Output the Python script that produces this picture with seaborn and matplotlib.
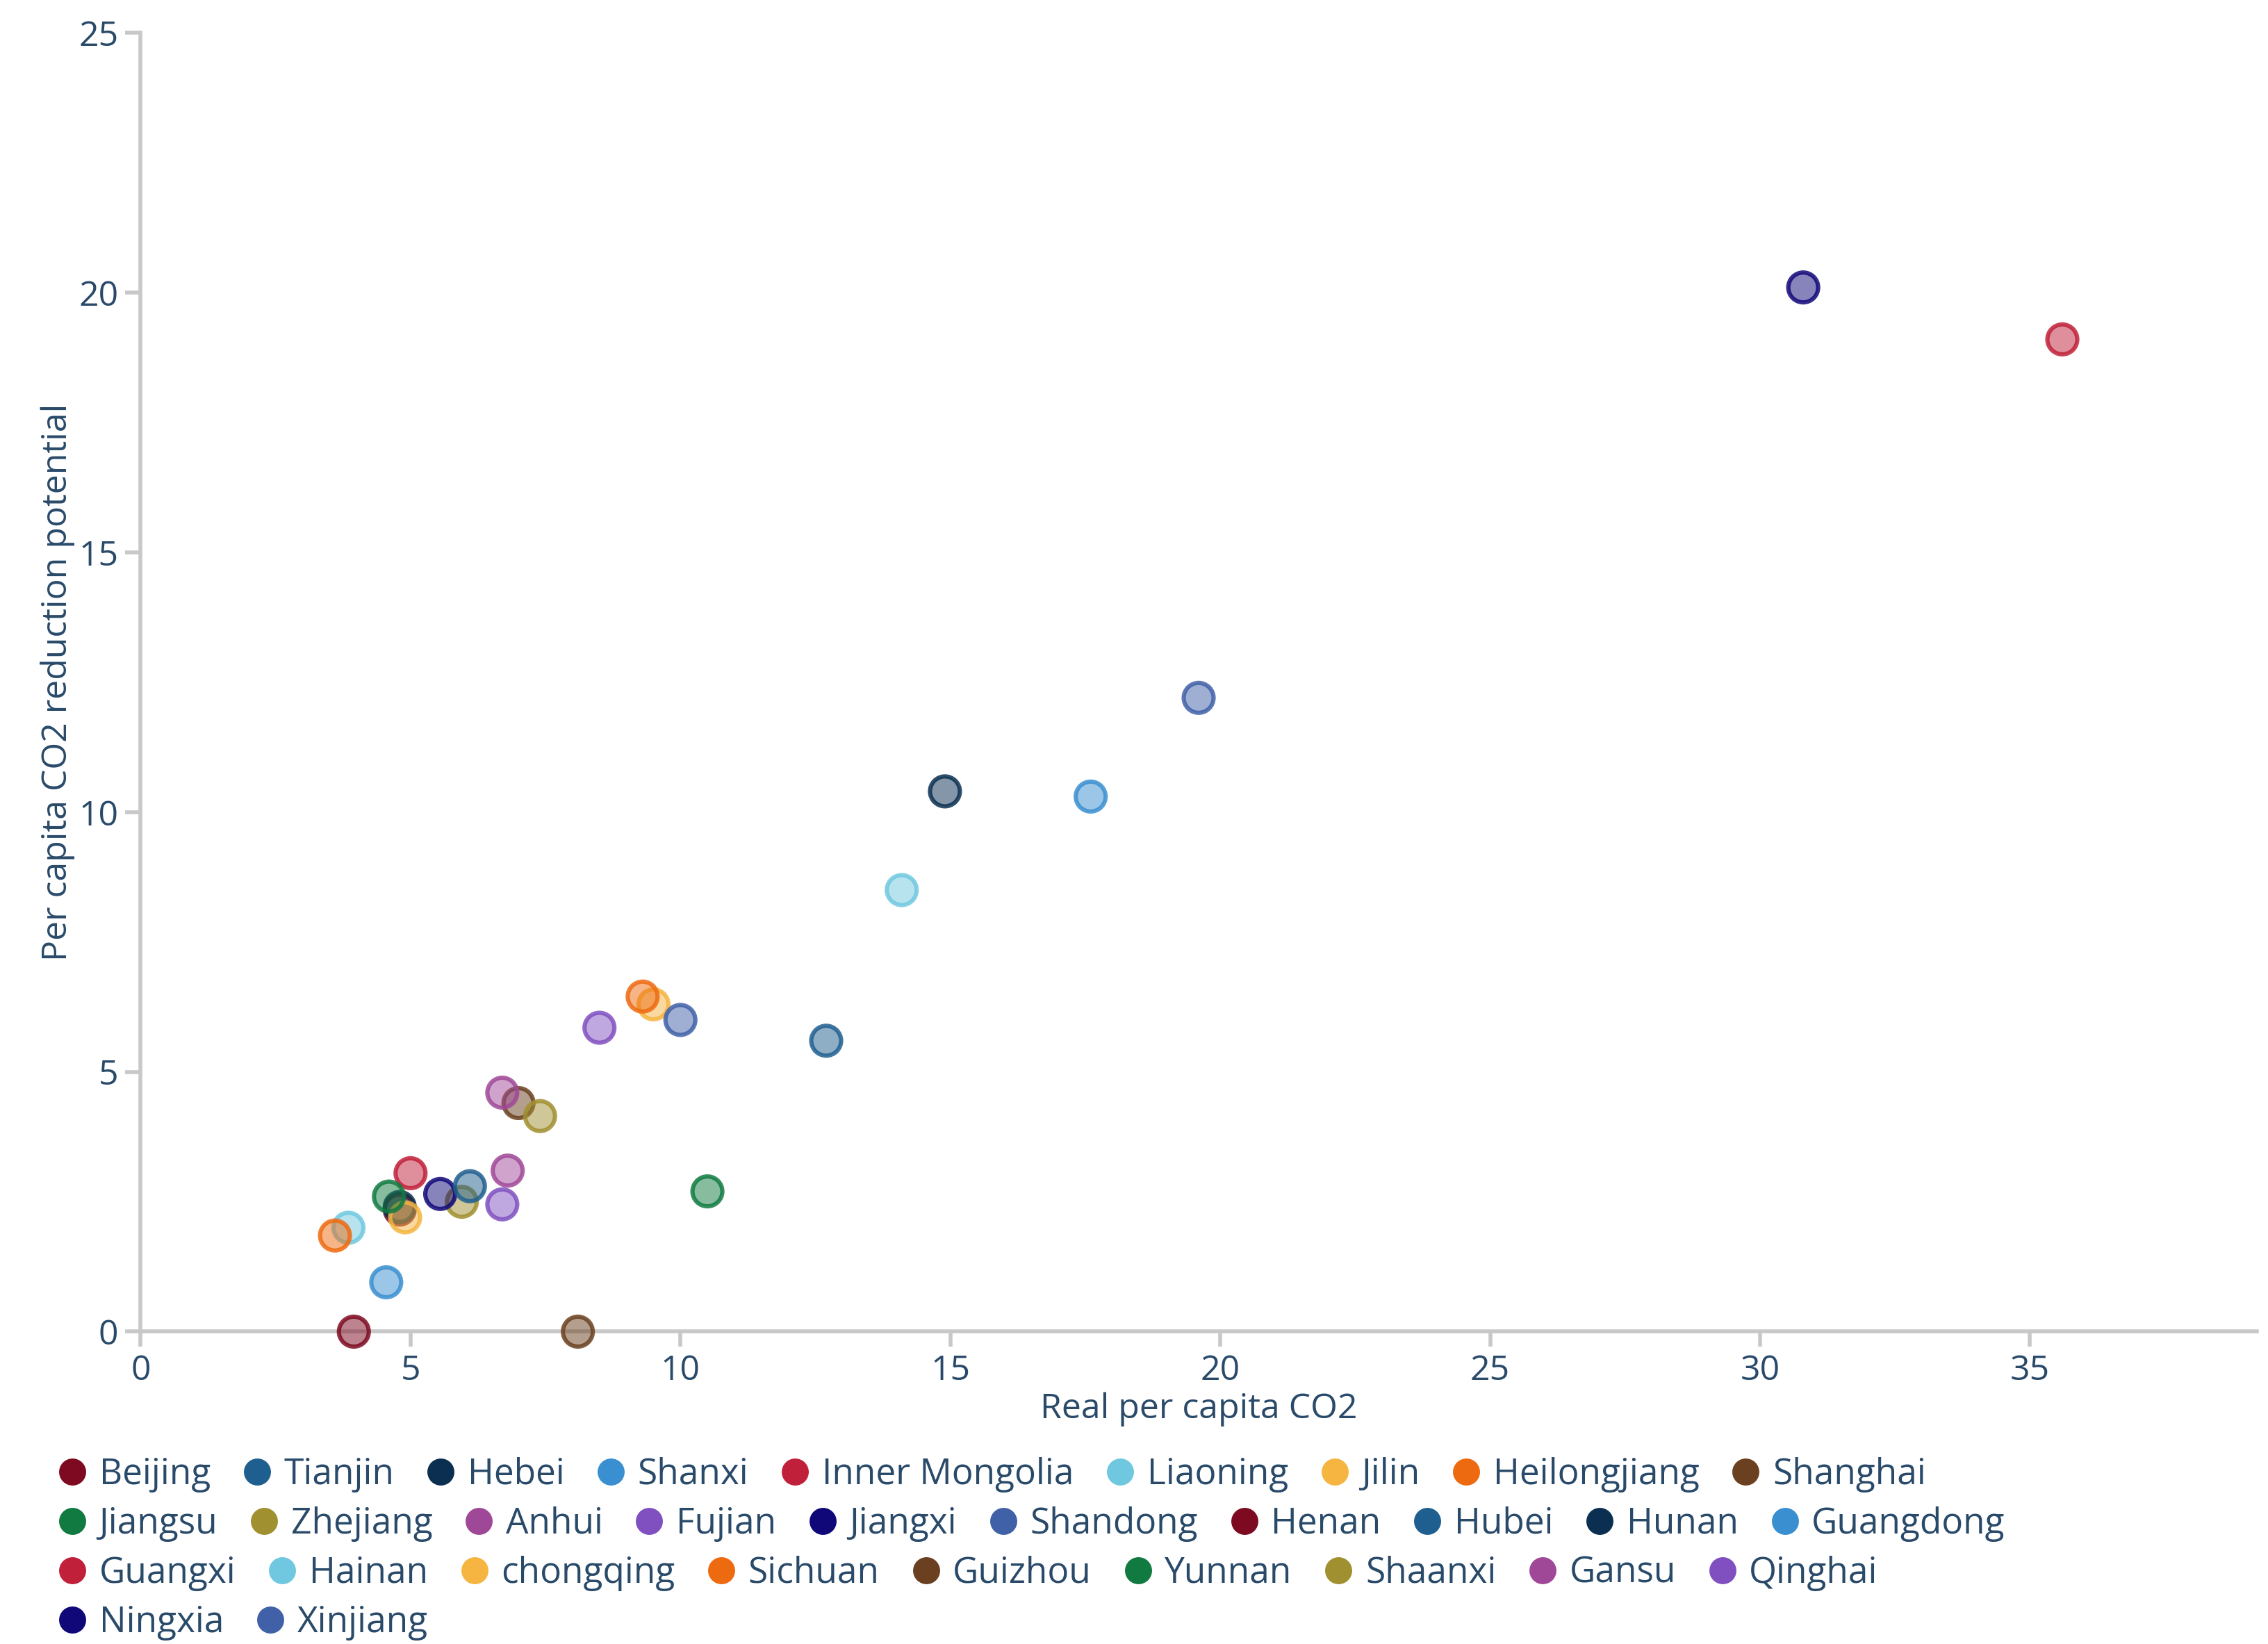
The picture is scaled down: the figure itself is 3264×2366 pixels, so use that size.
import pandas as pd
import numpy as np
import matplotlib.pyplot as plt
import seaborn as sns
from matplotlib.colors import to_rgba
from matplotlib.lines import Line2D

provinces = ['Beijing', 'Tianjin', 'Hebei', 'Shanxi', 'Inner Mongolia', 'Liaoning', 'Jilin',
             'Heilongjiang', 'Shanghai', 'Jiangsu', 'Zhejiang', 'Anhui', 'Fujian', 'Jiangxi',
             'Shandong', 'Henan', 'Hubei', 'Hunan', 'Guangdong', 'Guangxi', 'Hainan',
             'chongqing', 'Sichuan', 'Guizhou', 'Yunnan', 'Shaanxi', 'Gansu', 'Qinghai',
             'Ningxia', 'Xinjiang']
real_co2 = [3.95, 12.7, 14.9, 17.6, 35.6, 14.1, 9.5, 9.3, 8.1, 10.5, 5.95, 6.8, 6.7, 5.55,
            10.0, 4.8, 6.1, 4.8, 4.55, 5.0, 3.85, 4.9, 3.6, 7.0, 4.6, 7.4, 6.7, 8.5, 30.8, 19.6]
reduction = [0.0, 5.6, 10.4, 10.3, 19.1, 8.5, 6.3, 6.45, 0.0, 2.7, 2.5, 3.1, 2.45, 2.65,
             6.0, 2.35, 2.8, 2.4, 0.95, 3.05, 2.0, 2.2, 1.85, 4.4, 2.6, 4.15, 4.6, 5.85, 20.1, 12.2]
base_colors = ['#7d0a20', '#1f5f8f', '#0a2f50', '#3a8fd0', '#c0203a', '#70c8e0', '#f5b540',
               '#ee6a10', '#6a4020', '#107a40', '#a09030', '#a04898', '#8050c0', '#100878',
               '#4060a8']
colors = base_colors * 2

df = pd.DataFrame({'province': provinces, 'x': real_co2, 'y': reduction})
palette = dict(zip(provinces, colors))

sns.set_style('white')
plt.rcParams['font.family'] = ['Open Sans', 'DejaVu Sans']
tick_col = '#2a4a6a'

fig = plt.figure(figsize=(16.32, 11.83), dpi=200)
ax = fig.add_axes([0.062, 0.19, 0.933, 0.79])
sns.scatterplot(data=df, x='x', y='y', hue='province', palette=palette, s=240,
                legend=False, ax=ax, clip_on=False, zorder=3)
coll = ax.collections[0]
coll.set_facecolor([to_rgba(palette[p], 0.5) for p in df['province']])
coll.set_edgecolor([to_rgba(palette[p], 0.85) for p in df['province']])
coll.set_linewidth(2.2)

ax.set_xlim(0, 39.2)
ax.set_ylim(0, 25)
ax.set_xticks(range(0, 40, 5))
ax.set_yticks(range(0, 26, 5))
for s in ['top', 'right']:
    ax.spines[s].set_visible(False)
for s in ['left', 'bottom']:
    ax.spines[s].set_color('#c8c8c8')
    ax.spines[s].set_linewidth(2)
ax.tick_params(axis='both', colors='#c8c8c8', labelcolor=tick_col, labelsize=18,
               length=8, width=2, direction='out', bottom=True, left=True)
ax.set_xlabel('Real per capita CO2', fontsize=18, color=tick_col, labelpad=2)
ax.set_ylabel('Per capita CO2 reduction potential', fontsize=18, color=tick_col, labelpad=2)

rows = [provinces[0:9], provinces[9:19], provinces[19:28], provinces[28:30]]
row_y = [0.103, 0.073, 0.043, 0.013]
for names, yy in zip(rows, row_y):
    handles = [Line2D([], [], marker='o', linestyle='', markersize=13,
                      markerfacecolor=palette[n], markeredgecolor=palette[n]) for n in names]
    leg = fig.legend(handles, names, loc='center left', bbox_to_anchor=(0.024, yy),
                     ncol=len(names), frameon=False, fontsize=18.5, handletextpad=0.25,
                     columnspacing=0.8, handlelength=1.0, borderpad=0, borderaxespad=0)
    for t in leg.get_texts():
        t.set_color(tick_col)

fig.savefig('out.png', dpi=200)
